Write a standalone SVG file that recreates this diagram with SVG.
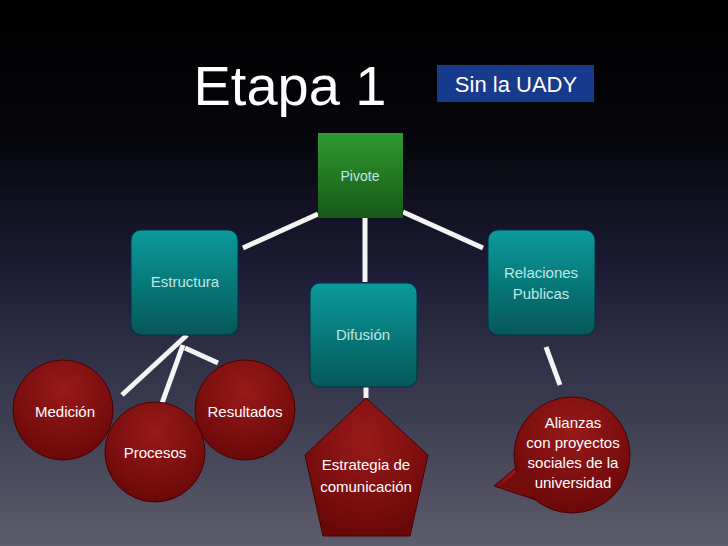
<svg xmlns="http://www.w3.org/2000/svg" width="728" height="546" viewBox="0 0 728 546">
<defs>
<linearGradient id="bg" x1="0" y1="0" x2="0" y2="1"><stop offset="0" stop-color="#000"/><stop offset="0.25" stop-color="#06060c"/><stop offset="0.5" stop-color="#1c1c36"/><stop offset="1" stop-color="#5c5c6c"/></linearGradient>
<linearGradient id="teal" x1="0" y1="0" x2="0" y2="1"><stop offset="0" stop-color="#0b9a9a"/><stop offset="1" stop-color="#055858"/></linearGradient>
<linearGradient id="green" x1="0" y1="0" x2="0" y2="1"><stop offset="0" stop-color="#2f9a2f"/><stop offset="1" stop-color="#175817"/></linearGradient>
<radialGradient id="red" cx="0.5" cy="0.3" r="0.7"><stop offset="0" stop-color="#9a1a1a"/><stop offset="1" stop-color="#6a0808"/></radialGradient>
<style>
.t{font-family:"Helvetica","Liberation Sans",Arial,sans-serif;fill:#fff;font-size:15px;text-anchor:middle}
.tl{font-family:"Helvetica","Liberation Sans",Arial,sans-serif;fill:#bfe8e8;font-size:15px;text-anchor:middle}
.box{fill:url(#teal);stroke:#034;stroke-width:1}
.red{fill:url(#red);stroke:#4a0000;stroke-width:1}
.c{stroke:#f4f4f4;stroke-width:5;fill:none}
</style>
</defs>
<rect width="728" height="546" fill="url(#bg)"/>
<text x="290" y="105" font-family="Helvetica,'Liberation Sans',Arial,sans-serif" font-size="56" fill="#fff" text-anchor="middle">Etapa 1</text>
<g id="uady"><rect x="437" y="65" width="157" height="37" fill="#183a8c"/><text x="516" y="92" class="t" style="font-size:22px">Sin la UADY</text></g>
<g id="connectors">
<line class="c" x1="243" y1="248" x2="318" y2="214"/>
<line class="c" x1="365" y1="218" x2="365" y2="282"/>
<line class="c" x1="403" y1="212" x2="483" y2="248"/>
<line class="c" x1="187" y1="335" x2="122" y2="395"/>
<line class="c" x1="183" y1="345" x2="161" y2="406"/>
<line class="c" x1="185" y1="348" x2="218" y2="363"/>
<line class="c" x1="366" y1="383" x2="366" y2="398"/>
<line class="c" x1="546" y1="347" x2="560" y2="385"/>
</g>
<g id="pivote"><rect x="318" y="133" width="85" height="85" fill="url(#green)"/><text x="360" y="181" class="tl" style="font-size:14px">Pivote</text></g>
<g id="estructura"><rect class="box" x="131" y="230" width="107" height="105" rx="10"/><text x="185" y="287" class="tl">Estructura</text></g>
<g id="difusion"><rect class="box" x="310" y="283" width="107" height="104" rx="10"/><text x="363" y="340" class="tl">Difusión</text></g>
<g id="relaciones"><rect class="box" x="488" y="230" width="107" height="105" rx="10"/><text x="541" y="278" class="tl">Relaciones</text><text x="541" y="299" class="tl">Publicas</text></g>
<g id="medicion"><circle class="red" cx="63" cy="410" r="50"/><text x="65" y="417" class="t">Medición</text></g>
<g id="resultados"><circle class="red" cx="245" cy="410" r="50"/><text x="245" y="417" class="t">Resultados</text></g>
<g id="procesos"><circle class="red" cx="155" cy="452" r="50"/><text x="155" y="458" class="t">Procesos</text></g>
<g id="estrategia"><polygon class="red" points="366,398 428,455 410,536 323,536 305,455"/><text x="366" y="470" class="t">Estrategia de</text><text x="366" y="492" class="t">comunicación</text></g>
<g id="alianzas"><polygon class="red" points="518,466 536,500 494,486"/><circle class="red" cx="572" cy="455" r="58"/><polygon points="522,468 534,497 500,486" fill="#750c0c"/><text x="573" y="428" class="t">Alianzas</text><text x="573" y="448" class="t">con proyectos</text><text x="573" y="468" class="t">sociales de la</text><text x="573" y="488" class="t">universidad</text></g>
</svg>
